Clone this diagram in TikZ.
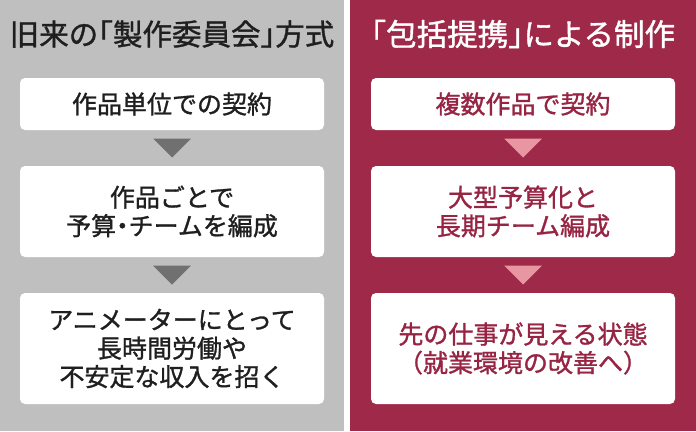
\documentclass[tikz,border=0pt]{standalone}
\usepackage{fontspec}
\newfontfamily\jpfont{Noto Sans CJK JP}[FakeBold=1.2,RawFeature=+halt]
\newfontfamily\jpwide{Noto Sans CJK JP}[FakeBold=1.2]
\usetikzlibrary{calc}
\definecolor{panelgray}{RGB}{191,191,191}
\definecolor{trigray}{RGB}{112,112,112}
\definecolor{panelred}{RGB}{158,41,73}
\definecolor{tripink}{RGB}{231,150,162}
\definecolor{textred}{RGB}{150,36,66}
\tikzset{
  stepbox/.style={fill=white,rounded corners=5pt,minimum width=304pt,inner sep=0pt,
    align=center,font=\jpfont\fontsize{25}{28.5}\selectfont},
  heading/.style={font=\jpfont\fontsize{29.5}{32}\selectfont},
}
\begin{document}
\begin{tikzpicture}[x=1pt,y=-1pt]
        \useasboundingbox (0,0) rectangle (696,431);
        \fill[panelgray] (0,0) rectangle (344,431);
        \fill[white] (344,0) rectangle (350,431);
        \fill[panelred] (350,0) rectangle (696,431);
        \node[heading,text=black!88] (oldtitle) at (172,34) {旧来の「製作委員会」方式};
        \node[heading,text=white,font=\jpfont\fontsize{30.5}{32}\selectfont] (newtitle) at (523,34) {「包括提携」による制作};
        \node[stepbox,minimum height=52pt,text=black!88] (old1) at (172,104) {作品単位での契約};
        \node[stepbox,minimum height=91pt,text=black!88] (old2) at (172,211.5) {作品ごとで\\予算・チームを編成};
        \node[stepbox,minimum height=111pt,text=black!88] (old3) at (172,348.5) {アニメーターにとって\\長時間労働や\\不安定な収入を招く};
        \node[stepbox,minimum height=52pt,text=textred] (new1) at (523,104) {複数作品で契約};
        \node[stepbox,minimum height=91pt,text=textred] (new2) at (523,211.5) {大型予算化と\\長期チーム編成};
        \node[stepbox,minimum height=111pt,text=textred,font=\jpwide\fontsize{25}{28.5}\selectfont] (new3) at (523,348.5) {先の仕事が見える状態\\（就業環境の改善へ）};
        \foreach \a/\b/\c in {old1/old2/trigray,old2/old3/trigray,new1/new2/tripink,new2/new3/tripink}
          \fill[\c] ($(\a.south)!.5!(\b.north)+(-19,-9.5)$) -- ++(38,0)
            -- ($(\a.south)!.5!(\b.north)+(0,9.5)$) -- cycle;
      \end{tikzpicture}
\end{document}
